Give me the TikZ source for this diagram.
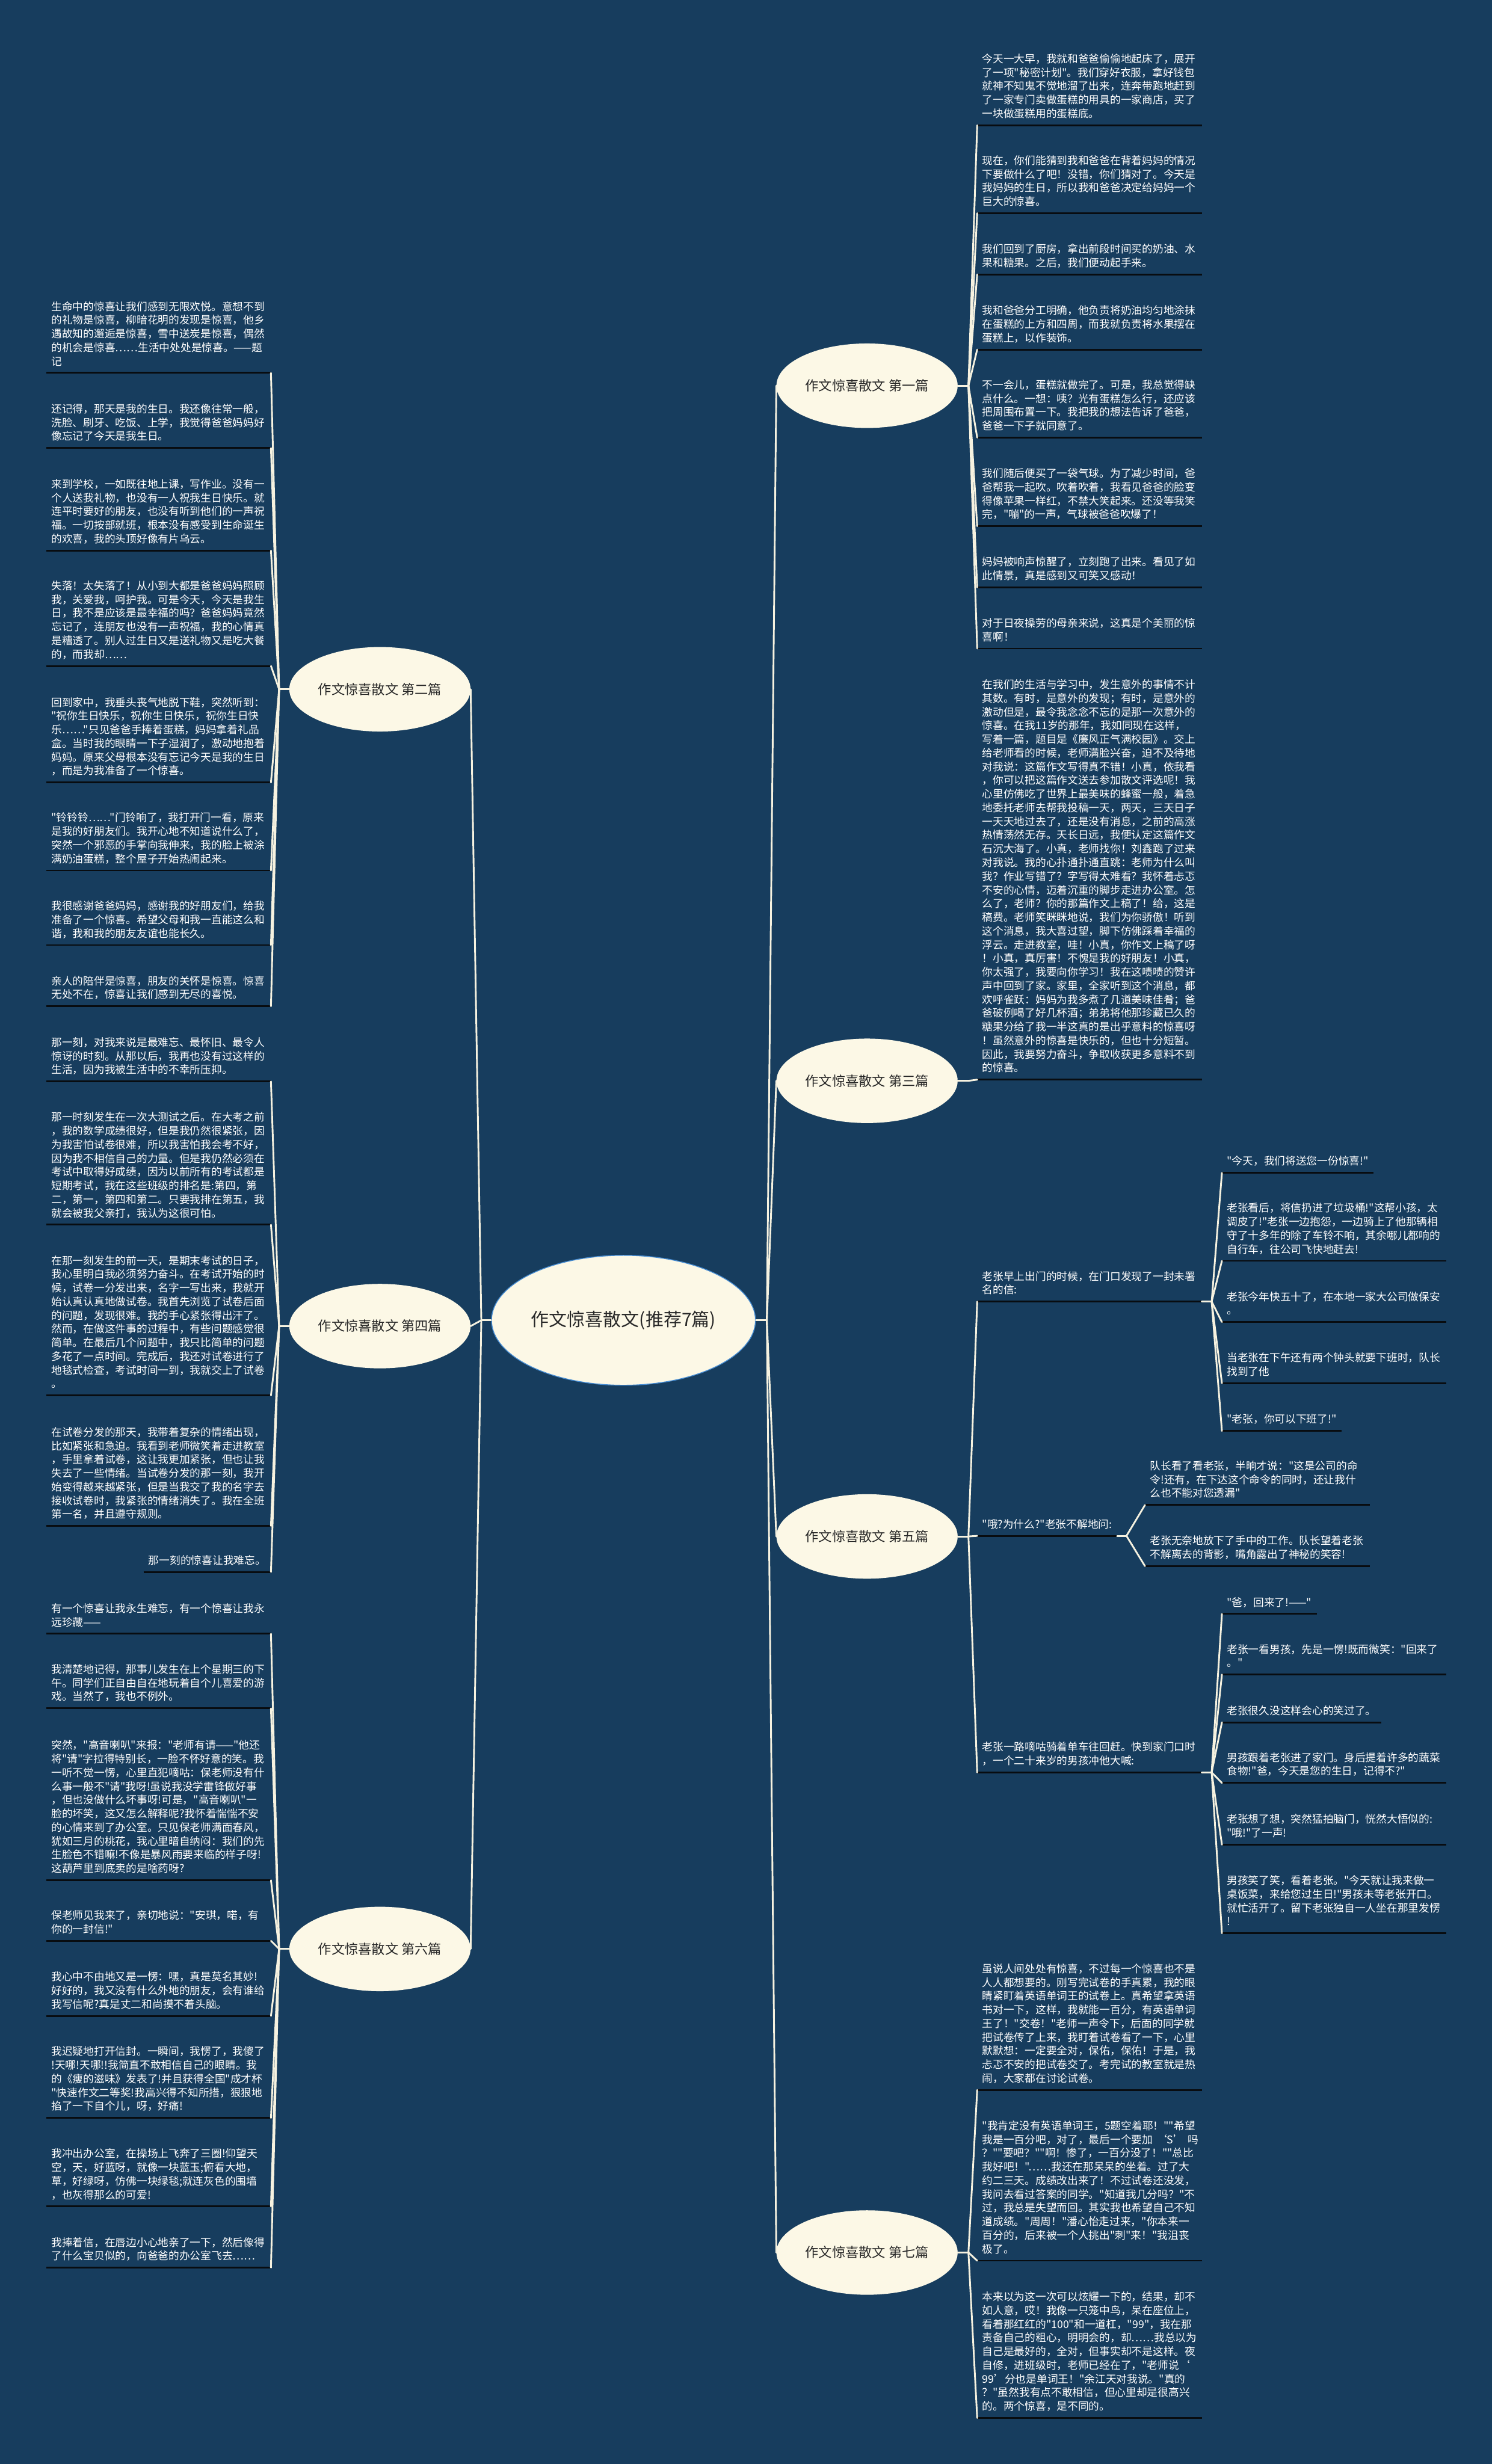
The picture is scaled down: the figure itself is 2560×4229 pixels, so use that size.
\documentclass[tikz,border=0pt]{standalone}
\usepackage{fontspec}
\setmainfont{Noto Sans CJK SC}[Ligatures=TeXOff]
\usetikzlibrary{shapes.geometric,calc}
\definecolor{bg}{RGB}{23,61,94}
\definecolor{cream}{RGB}{252,248,230}
\definecolor{connc}{RGB}{246,242,224}
\definecolor{ulc}{RGB}{8,12,16}
\definecolor{rootbd}{RGB}{70,140,210}
\definecolor{dtext}{RGB}{40,40,40}
\tikzset{
  leaf/.style={inner xsep=8.5pt, inner ysep=6pt, align=left, text=white, font=\fontsize{18.3}{23.5}\selectfont, execute at end node={\strut}},
  wide/.style={text width=368pt},
  uline/.style={draw=ulc, line width=3pt},
  conn/.style={draw=connc, line width=3pt, line cap=round, line join=round},
  topic/.style={ellipse, fill=cream, minimum width=311pt, minimum height=145pt, inner sep=0pt, text=dtext, font=\fontsize{23}{28}\selectfont},
  rootnode/.style={ellipse, fill=cream, draw=rootbd, line width=1.5pt, minimum width=453pt, minimum height=223pt, inner sep=0pt, text=dtext, font=\fontsize{31}{36}\selectfont},
}
% wide (multi-line) leaves
\newcommand\leafR[4]{\node[leaf,wide,anchor=south west] (#1) at (#2,#3) {#4};\draw[uline] (#1.south west) -- (#1.south east);}
\newcommand\leafL[4]{\node[leaf,wide,anchor=south east] (#1) at (#2,#3) {#4};\draw[uline] (#1.south west) -- (#1.south east);}
% short (one-line) leaves
\newcommand\leafRs[4]{\node[leaf,anchor=south west] (#1) at (#2,#3) {#4};\draw[uline] (#1.south west) -- (#1.south east);}
\newcommand\leafLs[4]{\node[leaf,anchor=south east] (#1) at (#2,#3) {#4};\draw[uline] (#1.south west) -- (#1.south east);}
\begin{document}
\begin{tikzpicture}[x=1pt,y=-1pt]
\useasboundingbox (0,0) rectangle (2560,4229);
\fill[bg] (0,0) rectangle (2560,4229);

% root and topics
\node[rootnode] (root) at (1070,2266) {作文惊喜散文(推荐7篇)};
\node[topic] (p1) at (1488,662) {作文惊喜散文 第一篇};
\node[topic] (p3) at (1488,1855) {作文惊喜散文 第三篇};
\node[topic] (p5) at (1488,2637) {作文惊喜散文 第五篇};
\node[topic] (p7) at (1488,3866) {作文惊喜散文 第七篇};
\node[topic] (p2) at (652,1183) {作文惊喜散文 第二篇};
\node[topic] (p4) at (652,2276) {作文惊喜散文 第四篇};
\node[topic] (p6) at (652,3345) {作文惊喜散文 第六篇};

% hubs
\coordinate (hR) at (1316,2266);
\coordinate (hL) at (826,2266);
\coordinate (h1) at (1662,662);
\coordinate (h3) at (1662,1855);
\coordinate (h5) at (1662,2637);
\coordinate (h7) at (1662,3866);
\coordinate (h2) at (479,1183);
\coordinate (h4) at (479,2276);
\coordinate (h6) at (479,3345);

% Part 1
\leafR{a1}{1677}{215}{今天一大早，我就和爸爸偷偷地起床了，展开\\了一项"秘密计划"。我们穿好衣服，拿好钱包\\就神不知鬼不觉地溜了出来，连奔带跑地赶到\\了一家专门卖做蛋糕的用具的一家商店，买了\\一块做蛋糕用的蛋糕底。}
\leafR{a2}{1677}{366}{现在，你们能猜到我和爸爸在背着妈妈的情况\\下要做什么了吧！没错，你们猜对了。今天是\\我妈妈的生日，所以我和爸爸决定给妈妈一个\\巨大的惊喜。}
\leafR{a3}{1677}{471}{我们回到了厨房，拿出前段时间买的奶油、水\\果和糖果。之后，我们便动起手来。}
\leafR{a4}{1677}{600}{我和爸爸分工明确，他负责将奶油均匀地涂抹\\在蛋糕的上方和四周，而我就负责将水果摆在\\蛋糕上，以作装饰。}
\leafR{a5}{1677}{751}{不一会儿，蛋糕就做完了。可是，我总觉得缺\\点什么。一想：咦？光有蛋糕怎么行，还应该\\把周围布置一下。我把我的想法告诉了爸爸，\\爸爸一下子就同意了。}
\leafR{a6}{1677}{903}{我们随后便买了一袋气球。为了减少时间，爸\\爸帮我一起吹。吹着吹着，我看见爸爸的脸变\\得像苹果一样红，不禁大笑起来。还没等我笑\\完，"嘣"的一声，气球被爸爸吹爆了！}
\leafR{a7}{1677}{1008}{妈妈被响声惊醒了，立刻跑了出来。看见了如\\此情景，真是感到又可笑又感动！}
\leafR{a8}{1677}{1113}{对于日夜操劳的母亲来说，这真是个美丽的惊\\喜啊！}

% Part 3
\leafR{c1}{1677}{1853}{在我们的生活与学习中，发生意外的事情不计\\其数。有时，是意外的发现；有时，是意外的\\激动但是，最令我念念不忘的是那一次意外的\\惊喜。在我11岁的那年，我如同现在这样，\\写着一篇，题目是《廉风正气满校园》。交上\\给老师看的时候，老师满脸兴奋，迫不及待地\\对我说：这篇作文写得真不错！小真，依我看\\，你可以把这篇作文送去参加散文评选呢！我\\心里仿佛吃了世界上最美味的蜂蜜一般，着急\\地委托老师去帮我投稿一天，两天，三天日子\\一天天地过去了，还是没有消息，之前的高涨\\热情荡然无存。天长日远，我便认定这篇作文\\石沉大海了。小真，老师找你！刘鑫跑了过来\\对我说。我的心扑通扑通直跳：老师为什么叫\\我？作业写错了？字写得太难看？我怀着忐忑\\不安的心情，迈着沉重的脚步走进办公室。怎\\么了，老师？你的那篇作文上稿了！给，这是\\稿费。老师笑眯眯地说，我们为你骄傲！听到\\这个消息，我大喜过望，脚下仿佛踩着幸福的\\浮云。走进教室，哇！小真，你作文上稿了呀\\！小真，真厉害！不愧是我的好朋友！小真，\\你太强了，我要向你学习！我在这啧啧的赞许\\声中回到了家。家里，全家听到这个消息，都\\欢呼雀跃：妈妈为我多煮了几道美味佳肴；爸\\爸破例喝了好几杯酒；弟弟将他那珍藏已久的\\糖果分给了我一半这真的是出乎意料的惊喜呀\\！虽然意外的惊喜是快乐的，但也十分短暂。\\因此，我要努力奋斗，争取收获更多意料不到\\的惊喜。}

% Part 5
\leafR{e1}{1677}{2234}{老张早上出门的时候，在门口发现了一封未署\\名的信:}
\leafRs{e2}{1677}{2636}{"哦?为什么?"老张不解地问:}
\leafR{e3}{1677}{3042}{老张一路嘀咕骑着单车往回赶。快到家门口时\\，一个二十来岁的男孩冲他大喊:}
\coordinate (h5a) at ($(e1.south east)+(17,0)$);
\coordinate (h5b) at ($(e2.south east)+(16,0)$);
\coordinate (h5c) at ($(e3.south east)+(17,0)$);
\leafRs{e1a}{2097}{2013}{"今天，我们将送您一份惊喜!"}
\leafR{e1b}{2097}{2164}{老张看后，将信扔进了垃圾桶!"这帮小孩，太\\调皮了!"老张一边抱怨，一边骑上了他那辆相\\守了十多年的除了车铃不响，其余哪儿都响的\\自行车，往公司飞快地赶去!}
\leafR{e1c}{2097}{2269}{老张今年快五十了，在本地一家大公司做保安\\。}
\leafR{e1d}{2097}{2374}{当老张在下午还有两个钟头就要下班时，队长\\找到了他}
\leafRs{e1e}{2097}{2456}{"老张，你可以下班了!"}
\leafR{e2a}{1965}{2583}{队长看了看老张，半晌才说："这是公司的命\\令!还有，在下达这个命令的同时，还让我什\\么也不能对您透漏"}
\leafR{e2b}{1965}{2688}{老张无奈地放下了手中的工作。队长望着老张\\不解离去的背影，嘴角露出了神秘的笑容!}
\leafRs{e3a}{2097}{2770}{"爸，回来了!——"}
\leafR{e3b}{2097}{2874}{老张一看男孩，先是一愣!既而微笑："回来了\\。"}
\leafRs{e3c}{2097}{2956}{老张很久没这样会心的笑过了。}
\leafR{e3d}{2097}{3060}{男孩跟着老张进了家门。身后提着许多的蔬菜\\食物!"爸，今天是您的生日，记得不?"}
\leafR{e3e}{2097}{3166}{老张想了想，突然猛拍脑门，恍然大悟似的:\\"哦!"了一声!}
\leafR{e3f}{2097}{3318}{男孩笑了笑，看着老张。"今天就让我来做一\\桌饭菜，来给您过生日!"男孩未等老张开口。\\就忙活开了。留下老张独自一人坐在那里发愣\\!}

% Part 7
\leafR{g1}{1677}{3587}{虽说人间处处有惊喜，不过每一个惊喜也不是\\人人都想要的。刚写完试卷的手真累，我的眼\\睛紧盯着英语单词王的试卷上。真希望拿英语\\书对一下，这样，我就能一百分，有英语单词\\王了！"交卷！"老师一声令下，后面的同学就\\把试卷传了上来，我盯着试卷看了一下，心里\\默默想：一定要全对，保佑，保佑！于是，我\\忐忑不安的把试卷交了。考完试的教室就是热\\闹，大家都在讨论试卷。}
\leafR{g2}{1677}{3880}{"我肯定没有英语单词王，5题空着耶！""希望\\我是一百分吧，对了，最后一个要加~‘S’~吗\\？""要吧？""啊！惨了，一百分没了！""总比\\我好吧！"……我还在那呆呆的坐着。过了大\\约二三天。成绩改出来了！不过试卷还没发，\\我问去看过答案的同学。"知道我几分吗？"不\\过，我总是失望而回。其实我也希望自己不知\\道成绩。"周周！"潘心怡走过来，"你本来一\\百分的，后来被一个人挑出"刺"来！"我沮丧\\极了。}
\leafR{g3}{1677}{4150}{本来以为这一次可以炫耀一下的，结果，却不\\如人意，哎！我像一只笼中鸟，呆在座位上，\\看着那红红的"100"和一道杠，"99"，我在那\\责备自己的粗心，明明会的，却……我总以为\\自己是最好的，全对，但事实却不是这样。夜\\自修，进班级时，老师已经在了，"老师说‘\\99’分也是单词王！"余江天对我说。"真的\\？"虽然我有点不敢相信，但心里却是很高兴\\的。两个惊喜，是不同的。}

% Part 2
\leafL{b1}{465}{640}{生命中的惊喜让我们感到无限欢悦。意想不到\\的礼物是惊喜，柳暗花明的发现是惊喜，他乡\\遇故知的邂逅是惊喜，雪中送炭是惊喜，偶然\\的机会是惊喜……生活中处处是惊喜。——题\\记}
\leafL{b2}{465}{769}{还记得，那天是我的生日。我还像往常一般，\\洗脸、刷牙、吃饭、上学，我觉得爸爸妈妈好\\像忘记了今天是我生日。}
\leafL{b3}{465}{945}{来到学校，一如既往地上课，写作业。没有一\\个人送我礼物，也没有一人祝我生日快乐。就\\连平时要好的朋友，也没有听到他们的一声祝\\福。一切按部就班，根本没有感受到生命诞生\\的欢喜，我的头顶好像有片乌云。}
\leafL{b4}{465}{1143}{失落！太失落了！从小到大都是爸爸妈妈照顾\\我，关爱我，呵护我。可是今天，今天是我生\\日，我不是应该是最幸福的吗？爸爸妈妈竟然\\忘记了，连朋友也没有一声祝福，我的心情真\\是糟透了。别人过生日又是送礼物又是吃大餐\\的，而我却……}
\leafL{b5}{465}{1343}{回到家中，我垂头丧气地脱下鞋，突然听到：\\"祝你生日快乐，祝你生日快乐，祝你生日快\\乐……"只见爸爸手捧着蛋糕，妈妈拿着礼品\\盒。当时我的眼睛一下子湿润了，激动地抱着\\妈妈。原来父母根本没有忘记今天是我的生日\\，而是为我准备了一个惊喜。}
\leafL{b6}{465}{1494}{"铃铃铃……"门铃响了，我打开门一看，原来\\是我的好朋友们。我开心地不知道说什么了，\\突然一个邪恶的手掌向我伸来，我的脸上被涂\\满奶油蛋糕，整个屋子开始热闹起来。}
\leafL{b7}{465}{1622}{我很感谢爸爸妈妈，感谢我的好朋友们，给我\\准备了一个惊喜。希望父母和我一直能这么和\\谐，我和我的朋友友谊也能长久。}
\leafL{b8}{465}{1727}{亲人的陪伴是惊喜，朋友的关怀是惊喜。惊喜\\无处不在，惊喜让我们感到无尽的喜悦。}

% Part 4
\leafL{d1}{465}{1856}{那一刻，对我来说是最难忘、最怀旧、最令人\\惊讶的时刻。从那以后，我再也没有过这样的\\生活，因为我被生活中的不幸所压抑。}
\leafL{d2}{465}{2102}{那一时刻发生在一次大测试之后。在大考之前\\，我的数学成绩很好，但是我仍然很紧张，因\\为我害怕试卷很难，所以我害怕我会考不好，\\因为我不相信自己的力量。但是我仍然必须在\\考试中取得好成绩，因为以前所有的考试都是\\短期考试，我在这些班级的排名是:第四，第\\二，第一，第四和第二。只要我排在第五，我\\就会被我父亲打，我认为这很可怕。}
\leafL{d3}{465}{2395}{在那一刻发生的前一天，是期末考试的日子，\\我心里明白我必须努力奋斗。在考试开始的时\\候，试卷一分发出来，名字一写出来，我就开\\始认真认真地做试卷。我首先浏览了试卷后面\\的问题，发现很难。我的手心紧张得出汗了。\\然而，在做这件事的过程中，有些问题感觉很\\简单。在最后几个问题中，我只比简单的问题\\多花了一点时间。完成后，我还对试卷进行了\\地毯式检查，考试时间一到，我就交上了试卷\\。}
\leafL{d4}{465}{2619}{在试卷分发的那天，我带着复杂的情绪出现，\\比如紧张和急迫。我看到老师微笑着走进教室\\，手里拿着试卷，这让我更加紧张，但也让我\\失去了一些情绪。当试卷分发的那一刻，我开\\始变得越来越紧张，但是当我交了我的名字去\\接收试卷时，我紧张的情绪消失了。我在全班\\第一名，并且遵守规则。}
\leafLs{d5}{465}{2698}{那一刻的惊喜让我难忘。}

% Part 6
\leafL{f1}{465}{2804}{有一个惊喜让我永生难忘，有一个惊喜让我永\\远珍藏——}
\leafL{f2}{465}{2932}{我清楚地记得，那事儿发生在上个星期三的下\\午。同学们正自由自在地玩着自个儿喜爱的游\\戏。当然了，我也不例外。}
\leafL{f3}{465}{3227}{突然，"高音喇叭"来报："老师有请——"他还\\将"请"字拉得特别长，一脸不怀好意的笑。我\\一听不觉一愣，心里直犯嘀咕：保老师没有什\\么事一般不"请"我呀!虽说我没学雷锋做好事\\，但也没做什么坏事呀!可是，"高音喇叭"一\\脸的坏笑，这又怎么解释呢?我怀着惴惴不安\\的心情来到了办公室。只见保老师满面春风，\\犹如三月的桃花，我心里暗自纳闷：我们的先\\生脸色不错嘛!不像是暴风雨要来临的样子呀!\\这葫芦里到底卖的是啥药呀?}
\leafL{f4}{465}{3331}{保老师见我来了，亲切地说："安琪，喏，有\\你的一封信!"}
\leafL{f5}{465}{3460}{我心中不由地又是一愣：嘿，真是莫名其妙!\\好好的，我又没有什么外地的朋友，会有谁给\\我写信呢?真是丈二和尚摸不着头脑。}
\leafL{f6}{465}{3635}{我迟疑地打开信封。一瞬间，我愣了，我傻了\\!天哪!天哪!!我简直不敢相信自己的眼睛。我\\的《瘦的滋味》发表了!并且获得全国"成才杯\\"快速作文二等奖!我高兴得不知所措，狠狠地\\掐了一下自个儿，呀，好痛!}
\leafL{f7}{465}{3787}{我冲出办公室，在操场上飞奔了三圈!仰望天\\空，天，好蓝呀，就像一块蓝玉;俯看大地，\\草，好绿呀，仿佛一块绿毯;就连灰色的围墙\\，也灰得那么的可爱!}
\leafL{f8}{465}{3892}{我捧着信，在唇边小心地亲了一下，然后像得\\了什么宝贝似的，向爸爸的办公室飞去……}

% connectors: root to topics
\draw[conn] (root.east) -- (hR);
\foreach \n in {p1,p3,p5,p7} \draw[conn] (hR) -- (\n.west);
\draw[conn] (root.west) -- (hL);
\foreach \n in {p2,p4,p6} \draw[conn] (hL) -- (\n.east);
% topics to leaves (right)
\draw[conn] (p1.east) -- (h1);
\foreach \n in {a1,a2,a3,a4,a5,a6,a7,a8} \draw[conn] (h1) -- (\n.south west);
\draw[conn] (p3.east) -- (h3) -- (c1.south west);
\draw[conn] (p5.east) -- (h5);
\foreach \n in {e1,e2,e3} \draw[conn] (h5) -- (\n.south west);
\draw[conn] (e1.south east) -- (h5a);
\foreach \n in {e1a,e1b,e1c,e1d,e1e} \draw[conn] (h5a) -- (\n.south west);
\draw[conn] (e2.south east) -- (h5b);
\foreach \n in {e2a,e2b} \draw[conn] (h5b) -- (\n.south west);
\draw[conn] (e3.south east) -- (h5c);
\foreach \n in {e3a,e3b,e3c,e3d,e3e,e3f} \draw[conn] (h5c) -- (\n.south west);
\draw[conn] (p7.east) -- (h7);
\foreach \n in {g1,g2,g3} \draw[conn] (h7) -- (\n.south west);
% topics to leaves (left)
\draw[conn] (p2.west) -- (h2);
\foreach \n in {b1,b2,b3,b4,b5,b6,b7,b8} \draw[conn] (h2) -- (\n.south east);
\draw[conn] (p4.west) -- (h4);
\foreach \n in {d1,d2,d3,d4,d5} \draw[conn] (h4) -- (\n.south east);
\draw[conn] (p6.west) -- (h6);
\foreach \n in {f1,f2,f3,f4,f5,f6,f7,f8} \draw[conn] (h6) -- (\n.south east);
\end{tikzpicture}
\end{document}
